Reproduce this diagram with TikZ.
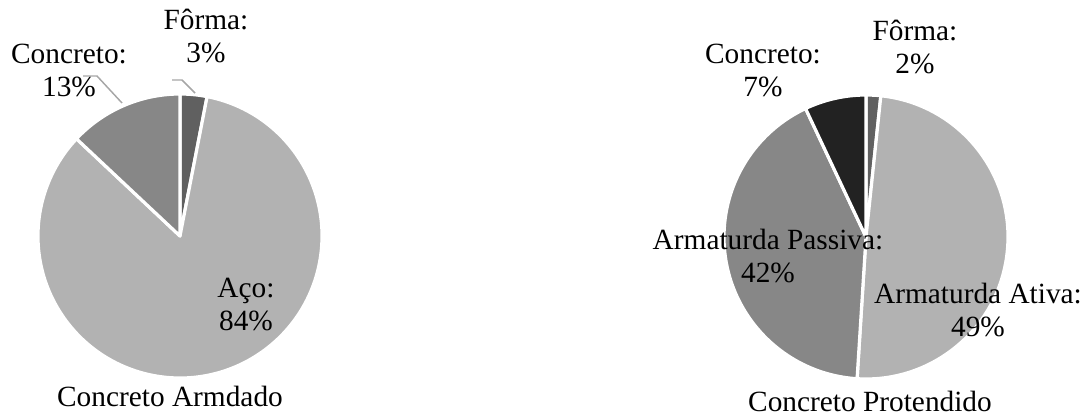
\documentclass[tikz,border=0pt]{standalone}
\usepackage{fontspec}
\setmainfont{Liberation Serif}
\usepackage{tikz}
\usetikzlibrary{positioning}
\definecolor{forma}{HTML}{606060}
\definecolor{aco}{HTML}{B2B2B2}
\definecolor{conc}{HTML}{878787}
\definecolor{concdark}{HTML}{222222}
\definecolor{leadergray}{HTML}{A6A6A6}
\def\pieradius{106.5pt}
\tikzset{
    x=0.75pt, y=0.75pt, % one unit is one pixel of the chart
    slice/.style={draw=white, line width=2.4pt, line join=round}, % white gaps between the slices
    lbl/.style={font=\fontsize{22}{25}\selectfont, align=center, inner sep=0pt, anchor=south}, % data labels
    charttitle/.style={font=\fontsize{22}{25}\selectfont, inner sep=0pt, anchor=base}, % title under each pie
    leader/.style={draw=leadergray, line width=1.1pt}, % leader lines to small slices
}
\begin{document}
\begin{tikzpicture}
    \useasboundingbox (0,0) rectangle (1090,419);
    % Concreto Armdado
    \coordinate (ca) at (180,183);
    \foreach \from/\to/\col in {90/79/forma, 79/-223.2/aco, -223.2/-270/conc}
        \filldraw[slice, fill=\col] (ca) -- +(\from:\pieradius) arc[start angle=\from, end angle=\to, radius=\pieradius] -- cycle;
    \node[lbl] (lforma) at (206,356) {Fôrma:\\3\%};
    \node[lbl] (lconc) at (69,322) {Concreto:\\13\%};
    \node[lbl] (laco) at (246,88) {Aço:\\84\%};
    \node[charttitle] (ltitle) at (170,13) {Concreto Armdado};
    \coordinate (lconcA) at (83,343);
    \coordinate (lconcB) at (97,343);
    \coordinate (lconcC) at (122,316);
    \coordinate (lformaA) at (172,339);
    \coordinate (lformaB) at (182,339);
    \coordinate (lformaC) at (195,326);
    \draw[leader] (lconcA) -- (lconcB) -- (lconcC);
    \draw[leader] (lformaA) -- (lformaB) -- (lformaC);
    % Concreto Protendido
    \coordinate (cp) at (866,182);
    \foreach \from/\to/\col in {90/84/forma, 84/-93.6/aco, -93.6/-244.8/conc, -244.8/-270/concdark}
        \filldraw[slice, fill=\col] (cp) -- +(\from:\pieradius) arc[start angle=\from, end angle=\to, radius=\pieradius] -- cycle;
    \node[lbl] (rforma) at (915,345) {Fôrma:\\2\%};
    \node[lbl] (rconc) at (763,322) {Concreto:\\7\%};
    \node[lbl] (rpass) at (768,136) {Armaturda Passiva:\\42\%};
    \node[lbl] (rativ) at (978,82) {Armaturda Ativa:\\49\%};
    \node[charttitle] (rtitle) at (870,8) {Concreto Protendido};
\end{tikzpicture}
\end{document}
